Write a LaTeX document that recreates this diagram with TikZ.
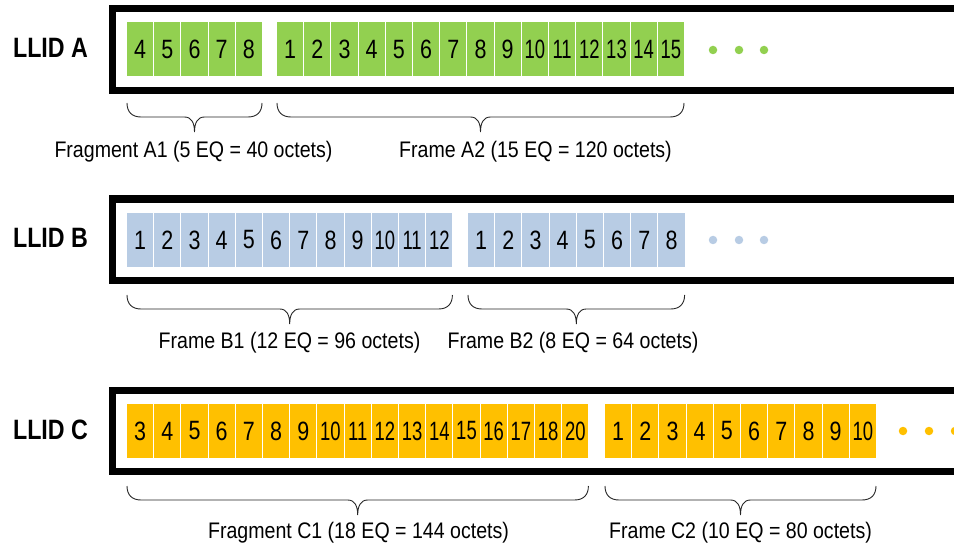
\documentclass[tikz,border=0pt]{standalone}
\usepackage{fontspec}
\usepackage{graphicx}
\setmainfont{Liberation Sans}
\newfontfamily\cellfont[FakeStretch=0.81]{Liberation Sans}
\newfontfamily\lblfont[FakeStretch=0.87]{Liberation Sans}
\newfontfamily\llidfont[FakeStretch=0.83]{Liberation Sans}
\definecolor{cellgreen}{HTML}{92D050}
\definecolor{cellblue}{HTML}{B8CCE4}
\definecolor{cellorange}{HTML}{FFC000}

% two-digit numbers are squeezed to fit their cell
\newcommand\cellnum[1]{\ifnum#1>9 \scalebox{0.86}[1]{#1}\else#1\fi}

% a run of equal cells: #1 name prefix, #2 left x, #3 centre y, #4 fill, #5 labels
\newcommand\cellgroup[5]{%
  \foreach \t [count=\i] in {#5}
    \node[cell, fill=#4] (#1-\i) at (#2+27.2*\i-14.1, #3) {\cellnum{\t}};
}

% curly brace under a run: #1 left x, #2 right x, #3 top y
\newcommand\grpbrace[3]{%
  \pgfmathsetmacro\bxm{(#1+#2)/2}%
  \draw[bracepen] (#1,#3) .. controls (#1,#3+9) and (#1+5,#3+14) .. (#1+14,#3+14)
    -- (\bxm-10,#3+14) .. controls (\bxm-3,#3+14) and (\bxm,#3+20) .. (\bxm,#3+29)
    .. controls (\bxm,#3+20) and (\bxm+3,#3+14) .. (\bxm+10,#3+14)
    -- (#2-14,#3+14) .. controls (#2-5,#3+14) and (#2,#3+9) .. (#2,#3);
}

\begin{document}
\begin{tikzpicture}[x=1pt,y=-1pt,
  cell/.style={rectangle, inner sep=0, minimum width=26.2pt, minimum height=54pt,
    font=\cellfont\fontsize{26.5}{30}\selectfont},
  llid/.style={inner sep=0, font=\llidfont\bfseries\fontsize{28}{32}\selectfont},
  caption/.style={inner sep=0, font=\lblfont\fontsize{22.5}{26}\selectfont},
  lane/.style={line width=7.5pt},
  bracepen/.style={line width=0.9pt, black!85},
  seqdot/.style={circle, inner sep=0, minimum size=8.5pt}
]
\clip (0,0) rectangle (954,548);

% ---- LLID A ----
\node[llid] (llidA) at (50.5,48) {LLID A};
\draw[lane] (112.5,8.75) rectangle (1000,90.5);
\cellgroup{a1}{127}{49.5}{cellgreen}{4,5,6,7,8}
\cellgroup{a2}{277}{49.5}{cellgreen}{1,2,3,4,5,6,7,8,9,10,11,12,13,14,15}
\foreach \x [count=\i] in {713,739,764}
  \node[seqdot, fill=cellgreen] (adot\i) at (\x,50) {};
\grpbrace{127}{262}{103}
\grpbrace{277}{684}{103}
\node[caption] (capA1) at (193.5,152) {Fragment A1 (5 EQ = 40 octets)};
\node[caption] (capA2) at (535.5,152) {Frame A2 (15 EQ = 120 octets)};

% ---- LLID B ----
\node[llid] (llidB) at (50.5,238) {LLID B};
\draw[lane] (112.5,199) rectangle (1000,280.5);
\cellgroup{b1}{127}{240}{cellblue}{1,2,3,4,5,6,7,8,9,10,11,12}
\cellgroup{b2}{468}{240}{cellblue}{1,2,3,4,5,6,7,8}
\foreach \x [count=\i] in {713,739,764}
  \node[seqdot, fill=cellblue] (bdot\i) at (\x,240) {};
\grpbrace{127}{452.4}{295}
\grpbrace{468}{684.6}{295}
\node[caption] (capB1) at (289.5,343) {Frame B1 (12 EQ = 96 octets)};
\node[caption] (capB2) at (573,343) {Frame B2 (8 EQ = 64 octets)};

% ---- LLID C ----
\node[llid] (llidC) at (50.5,430) {LLID C};
\draw[lane] (112.5,390.5) rectangle (1000,471.5);
\cellgroup{c1}{127}{431}{cellorange}{3,4,5,6,7,8,9,10,11,12,13,14,15,16,17,18,20}
\cellgroup{c2}{605}{431}{cellorange}{1,2,3,4,5,6,7,8,9,10}
\foreach \x [count=\i] in {903,929,955}
  \node[seqdot, fill=cellorange] (cdot\i) at (\x,431) {};
\grpbrace{127}{588.4}{486}
\grpbrace{605}{876}{486}
\node[caption] (capC1) at (358.5,533) {Fragment C1 (18 EQ = 144 octets)};
\node[caption] (capC2) at (740.5,533) {Frame C2 (10 EQ = 80 octets)};
\end{tikzpicture}
\end{document}
